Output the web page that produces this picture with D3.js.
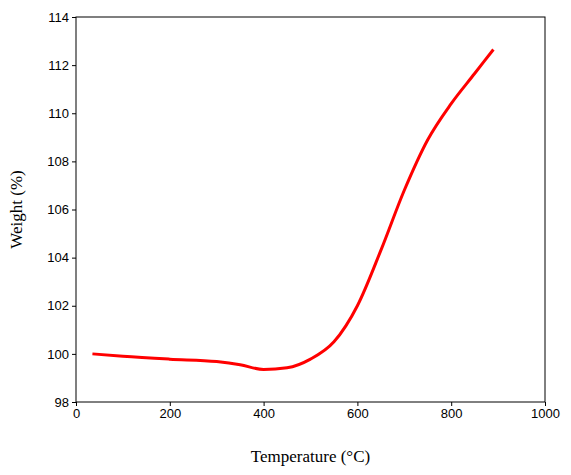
<!DOCTYPE html>
<html><head><meta charset="utf-8">
<script src="https://cdn.jsdelivr.net/npm/d3@7"></script>
<style>body{margin:0;background:#fff}</style></head>
<body><svg id="c" width="571" height="475"></svg>
<script>
const temps = [35,100,200,300,350,400,450,500,550,600,650,700,750,800,850,890];
const weights = [100.0,99.9,99.78,99.68,99.55,99.35,99.42,99.78,100.5,102.0,104.3,106.8,108.9,110.4,111.65,112.65];
const xTicks = [0,200,400,600,800,1000];
const yTicks = [98,100,102,104,106,108,110,112,114];
const svg = d3.select("#c");
const L=76,R=545,T=17,B=402;
const x=d3.scaleLinear().domain([0,1000]).range([L,R]);
const y=d3.scaleLinear().domain([98,114]).range([B,T]);
svg.append("rect").attr("x",L).attr("y",T).attr("width",R-L).attr("height",B-T).attr("fill","none").attr("stroke","#000");
const xa=svg.append("g").attr("transform",`translate(0,${B})`).call(d3.axisBottom(x).tickValues(xTicks).tickFormat(d3.format("d")).tickSize(4).tickSizeOuter(0));
const ya=svg.append("g").attr("transform",`translate(${L},0)`).call(d3.axisLeft(y).tickValues(yTicks).tickFormat(d3.format("d")).tickSize(4).tickSizeOuter(0));
[xa,ya].forEach(a=>{a.selectAll("text").attr("font-family","Liberation Sans, Arial").attr("font-size",13).attr("fill","#000");a.select(".domain").remove();});
svg.append("path").datum(temps.map((t,i)=>[t,weights[i]]))
 .attr("d",d3.line().x(d=>x(d[0])).y(d=>y(d[1])).curve(d3.curveMonotoneX))
 .attr("fill","none").attr("stroke","#ff0000").attr("stroke-width",3);
svg.append("text").attr("x",(L+R)/2).attr("y",462).attr("text-anchor","middle").attr("font-family","Liberation Serif, Times New Roman").attr("font-size",17).text("Temperature (°C)");
svg.append("text").attr("transform",`translate(22,${(T+B)/2}) rotate(-90)`).attr("text-anchor","middle").attr("font-family","Liberation Serif, Times New Roman").attr("font-size",17).text("Weight (%)");
</script></body></html>
